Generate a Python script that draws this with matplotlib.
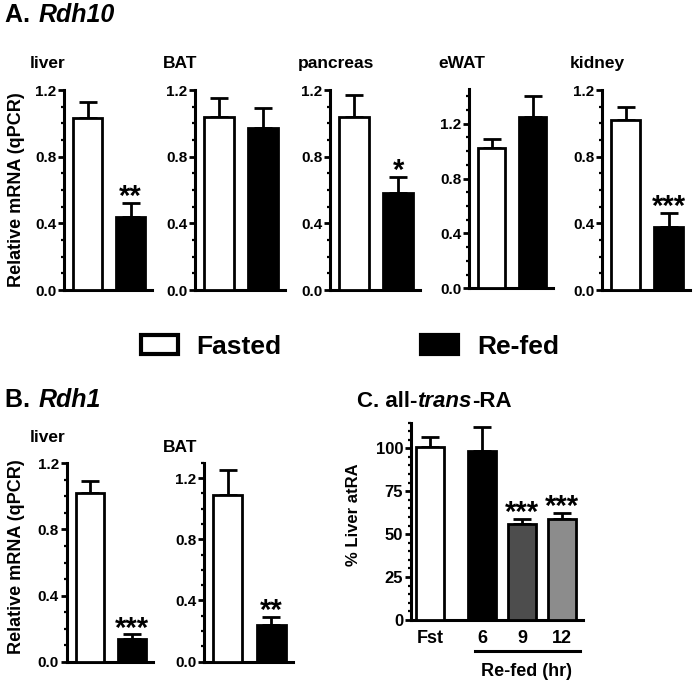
import numpy as np
import matplotlib
matplotlib.use("Agg")
import matplotlib.pyplot as plt
from matplotlib.patches import Patch
from matplotlib.text import Annotation
from matplotlib.ticker import MultipleLocator, FormatStrFormatter
from matplotlib.transforms import blended_transform_factory

plt.rcParams['font.family'] = ['Liberation Sans', 'DejaVu Sans']
plt.rcParams['font.weight'] = 'bold'

# ---- data ----
groups = ["Fasted", "Re-fed"]

rdh10_tissues = ["liver", "BAT", "pancreas", "eWAT", "kidney"]
rdh10_mean = [[1.03, 0.44], [1.04, 0.97], [1.04, 0.58], [1.02, 1.25], [1.02, 0.38]]
rdh10_sem = [[0.10, 0.08], [0.11, 0.12], [0.13, 0.10], [0.07, 0.15], [0.08, 0.08]]
rdh10_stars = ["**", "", "*", "", "***"]
rdh10_ylim = [1.2, 1.2, 1.2, 1.45, 1.2]

rdh1_tissues = ["liver", "BAT"]
rdh1_mean = [[1.02, 0.14], [1.09, 0.24]]
rdh1_sem = [[0.07, 0.025], [0.16, 0.055]]
rdh1_stars = ["***", "**"]
rdh1_ylim = [1.2, 1.3]

ra_labels = ["Fst", "6", "9", "12"]
ra_mean = [100.5, 98.4, 55.9, 58.8]
ra_sem = [6.3, 14.2, 3.0, 3.7]
ra_stars = ["", "", "***", "***"]
ra_colors = ["white", "black", "#4d4d4d", "#8c8c8c"]

W, H = 693, 684
fig = plt.figure(figsize=(W / 100, H / 100), dpi=100)


def px_axes(x0, x1, ytop, ybot):
    return fig.add_axes([x0 / W, 1 - ybot / H, (x1 - x0) / W, (ybot - ytop) / H])


def style(ax, top, major, minor, lsize=11):
    for s in ["top", "right"]:
        ax.spines[s].set_visible(False)
    for s in ["left", "bottom"]:
        ax.spines[s].set_linewidth(2.2)
    ax.set_ylim(0, top)
    ax.yaxis.set_major_locator(MultipleLocator(major))
    ax.yaxis.set_minor_locator(MultipleLocator(minor))
    ax.tick_params(axis='y', which='major', length=4.5, width=2, labelsize=lsize, pad=1)
    ax.tick_params(axis='y', which='minor', length=2.5, width=1.6)
    ax.tick_params(axis='x', length=0)
    for t in ax.get_yticklabels():
        t.set_fontweight('bold')


def add_star(ax, x, y, s):
    ax.annotate(s, xy=(x, y), xytext=(0, -1.5), textcoords="offset points",
                ha="center", va="baseline", fontsize=21, fontweight="bold",
                annotation_clip=False)


def pair_panel(ax, mean, sem, star, top):
    x = np.arange(2)
    ax.bar(x, mean, width=0.67, color=["white", "black"], edgecolor="black",
           linewidth=2, zorder=3)
    ax.errorbar(x, mean, yerr=[[0, 0], sem], fmt="none", ecolor="black",
                elinewidth=2, capsize=6.5, capthick=2, zorder=2)
    ax.set_xlim(-0.55, 1.5)
    ax.set_xticks([])
    style(ax, top, 0.4, 0.1)
    ax.yaxis.set_major_formatter(FormatStrFormatter("%.1f"))
    if star:
        add_star(ax, 1, mean[1] + sem[1], star)


def heading(x, y, parts, size=18, gap=1.0):
    # parts: list of (text, italic), laid out one after the other
    prev = None
    for txt, it in parts:
        kw = dict(fontsize=size, fontweight="bold", va="baseline", ha="left",
                  style="italic" if it else "normal")
        if prev is None:
            prev = fig.text(x / W, 1 - y / H, txt, **kw)
        else:
            prev = fig.add_artist(Annotation(
                txt, xy=(1, H - y), xycoords=(prev, "figure pixels"),
                xytext=(gap, 0), textcoords="offset points", **kw))


# ---- panel A ----
a_pos = [(64, 152, 90, 290), (195, 285, 90, 290), (330, 420, 90, 290),
         (469, 553, 89.3, 288.3), (602, 690, 90, 290)]
a_title_x = [30, 163, 298, 438, 570]
for i, name in enumerate(rdh10_tissues):
    x0, x1, yt, yb = a_pos[i]
    ax = px_axes(x0, x1, yt, yb)
    pair_panel(ax, rdh10_mean[i], rdh10_sem[i], rdh10_stars[i], rdh10_ylim[i])
    fig.text(a_title_x[i] / W, 1 - 68 / H, name, fontsize=12.5,
             fontweight="bold", va="baseline", ha="left")

fig.text(17 / W, 1 - 190 / H, "Relative mRNA (qPCR)", rotation=90,
         fontsize=13, fontweight="bold", ha="center", va="center")

heading(5, 22, [("A. ", False), ("Rdh10", True)])
heading(5, 407, [("B. ", False), ("Rdh1", True)])
heading(357, 407, [("C. all-", False), ("trans", True), ("-RA", False)],
        size=16, gap=0)

# ---- legend ----
handles = [Patch(facecolor="white", edgecolor="black", linewidth=3),
           Patch(facecolor="black", edgecolor="black", linewidth=3)]
fig.legend(handles, groups, loc="center", bbox_to_anchor=(350 / W, 1 - 347 / H),
           ncol=2, frameon=False, handlelength=1.4, handleheight=0.75,
           handletextpad=0.7, columnspacing=5.3,
           prop={"size": 19, "weight": "bold"})

# ---- panel B ----
b_pos = [(66.7, 153, 463.3, 661.7), (204, 293, 462.7, 661.7)]
b_title = [(30, 441.7), (163, 451.7)]
for i, name in enumerate(rdh1_tissues):
    x0, x1, yt, yb = b_pos[i]
    ax = px_axes(x0, x1, yt, yb)
    pair_panel(ax, rdh1_mean[i], rdh1_sem[i], rdh1_stars[i], rdh1_ylim[i])
    fig.text(b_title[i][0] / W, 1 - b_title[i][1] / H, name, fontsize=12.5,
             fontweight="bold", va="baseline", ha="left")

fig.text(17 / W, 1 - 557 / H, "Relative mRNA (qPCR)", rotation=90,
         fontsize=13, fontweight="bold", ha="center", va="center")

# ---- panel C ----
axc = px_axes(410.7, 582.7, 620 - 115 * 1.717, 620)
xc = np.array([0, 1.3, 2.3, 3.3])
axc.bar(xc, ra_mean, width=0.69, color=ra_colors, edgecolor="black",
        linewidth=2, zorder=3)
axc.errorbar(xc, ra_mean, yerr=[np.zeros(4), ra_sem], fmt="none", ecolor="black",
             elinewidth=2, capsize=6.5, capthick=2, zorder=2)
axc.set_xlim(-0.49, 3.82)
style(axc, 115, 25, 5, lsize=12)
axc.set_xticks(xc)
axc.set_xticklabels(ra_labels, fontsize=13, fontweight="bold")
axc.tick_params(axis='x', pad=7)
for xi, m, s, st in zip(xc, ra_mean, ra_sem, ra_stars):
    if st:
        add_star(axc, xi, m + s, st)
tr = blended_transform_factory(axc.transData, axc.transAxes)
axc.plot([1.12, 3.75], [-0.157, -0.157], color="black", lw=2.2,
         transform=tr, clip_on=False)
axc.text(2.42, -0.26, "Re-fed (hr)", transform=tr, ha="center", va="center",
         fontsize=13, fontweight="bold")
fig.text(353 / W, 1 - 515 / H, "% Liver atRA", rotation=90, fontsize=12,
         fontweight="bold", ha="center", va="center")

fig.savefig("out.png", dpi=100)
